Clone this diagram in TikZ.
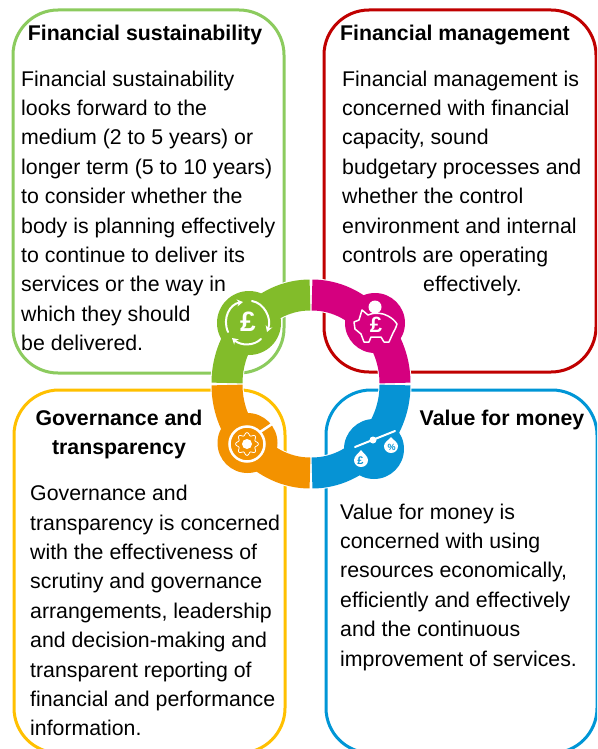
\documentclass[tikz,border=0pt]{standalone}
\usepackage{fontspec}
\usetikzlibrary{arrows.meta}
\setmainfont{Liberation Sans}
\definecolor{bgreen}{HTML}{8CCB5E}
\definecolor{bred}{HTML}{C00000}
\definecolor{byellow}{HTML}{FFC000}
\definecolor{bblue}{HTML}{0096D6}
\definecolor{rgreen}{HTML}{82BC2A}
\definecolor{rpink}{HTML}{D5007F}
\definecolor{rblue}{HTML}{0693D4}
\definecolor{rorange}{HTML}{F39200}
\tikzset{
  x=1pt,y=-1pt,
  panel/.style={line width=3pt,rounded corners=45pt},
  body/.style={anchor=north west,inner sep=0pt,align=left,font=\fontsize{21.3}{29.4}\selectfont,text=black},
  head/.style={inner sep=0pt,align=center,font=\fontsize{21.3}{29.3}\selectfont\bfseries,text=black},
  halo/.style={draw=white,line width=32pt},
  band/.style={line width=31pt},
  ico/.style={draw=white,line width=2pt,line cap=round},
  pound/.style={text=white,inner sep=0pt,font=\bfseries}
}
\begin{document}
\begin{tikzpicture}
\useasboundingbox (0,0) rectangle (597,749);
\fill[white] (0,0) rectangle (597,749);
\begin{scope}
\clip (0,0) rectangle (597,749);
\draw[panel,draw=bgreen] (13,10) rectangle (284,373);
\draw[panel,draw=bred] (324,10) rectangle (596,372);
\draw[panel,draw=byellow] (14,390) rectangle (285,753);
\draw[panel,draw=bblue] (326,390) rectangle (597,753);
\end{scope}
% text
\node[head,anchor=base] (t1) at (145,40.5) {Financial sustainability};
\node[head,anchor=base] (t2) at (455,40.5) {Financial management};
\node[head,anchor=base] (t3) at (119,454.5) {Governance and\\transparency};
\node[head,anchor=base] (t4) at (502,425) {Value for money};
\node[body] (b1) at (21,70.5) {Financial sustainability\\looks forward to the\\medium (2 to 5 years) or\\longer term (5 to 10 years)\\to consider whether the\\body is planning effectively\\to continue to deliver its\\services or the way in\\which they should\\be delivered.};
\node[body] (b2) at (342,70.5) {Financial management is\\concerned with financial\\capacity, sound\\budgetary processes and\\whether the control\\environment and internal\\controls are operating\\\hspace*{81pt}effectively.};
\node[body] (b3) at (30,485) {Governance and\\transparency is concerned\\with the effectiveness of\\scrutiny and governance\\arrangements, leadership\\and decision-making and\\transparent reporting of\\financial and performance\\information.};
\node[body] (b4) at (340,503.5) {Value for money is\\concerned with using\\resources economically,\\efficiently and effectively\\and the continuous\\improvement of services.};
% ring halos
\foreach \c/\r in {(249,323)/33,(375,323)/31,(374,449)/31,(247.5,443)/31} \fill[white] \c circle (\r);
\draw[halo,line width=33pt] (227,383) .. controls (227,335) and (265,295) .. (310,295);
\draw[halo,line width=33pt] (395,383) .. controls (395,335) and (357,295) .. (312,295);
\draw[halo,line width=33pt] (395,385) .. controls (395,433) and (357,473) .. (312,473);
\draw[halo,line width=33pt] (227,385) .. controls (227,433) and (265,473) .. (310,473);
% ring bands
\draw[band,rgreen] (227,383) .. controls (227,335) and (265,295) .. (310,295);
\fill[rgreen] (249,323) circle (32);
\draw[band,rpink] (395,383) .. controls (395,335) and (357,295) .. (312,295);
\fill[rpink] (375,323) circle (30);
\draw[band,rblue] (395,385) .. controls (395,433) and (357,473) .. (312,473);
\fill[rblue] (374,449) circle (30);
\draw[band,rorange] (227,385) .. controls (227,433) and (265,473) .. (310,473);
\fill[rorange] (247.5,443) circle (30);
% green icon
\node[pound,font=\fontsize{28}{28}\selectfont\bfseries] (p1) at (248,322) {£};
\draw[ico,-{Stealth[length=6pt,width=7pt]}] (228,332) .. controls (222,318) and (230,304) .. (243,302);
\draw[ico,-{Stealth[length=6pt,width=7pt]}] (252,301) .. controls (264,303) and (272,318) .. (267,332);
\draw[ico,-{Stealth[length=6pt,width=7pt]}] (261,339) .. controls (254,346) and (241,346) .. (232,338);
% piggy icon
\draw[white,line width=1.5pt,line join=round,fill=rpink] (362,310) -- (368,315) .. controls (375,312) and (383,313) .. (388,316) .. controls (392,318) and (395,321) .. (397,324) .. controls (396,328) and (394,331) .. (393,333) -- (389,342) -- (384,342) -- (381,337) -- (371,337) -- (369,342) -- (364,342) -- (361,334) -- (355,329) -- (354,322) -- (359,320) -- cycle;
\fill[white] (375,307) circle (6.5);
\node[pound,font=\fontsize{22}{22}\selectfont\bfseries] (p2) at (376,325) {£};
% gear icon
\draw[white,line width=2.5pt] (247,444) circle (17.5);
\draw[white,line width=2.5pt] (260,432) -- (272,424);
\draw[white,line width=.8pt,smooth] plot[domain=0:360,samples=97] ({247+(10+1.4*cos(8*\x))*cos(\x)},{444+(10+1.4*cos(8*\x))*sin(\x)});
\fill[white] (247,444) circle (5);
% scale icon
\draw[white,line width=2pt,line cap=round] (355,447) -- (395,431);
\fill[white] (373,440) circle (3.5);
\fill[white] (361,450) .. controls (363,453) and (368,456) .. (368,460) .. controls (368,464) and (365,467) .. (361,467) .. controls (357,467) and (354,464) .. (354,460) .. controls (354,456) and (359,453) .. (361,450) -- cycle;
\fill[white] (391,437) .. controls (393,440) and (398,442) .. (398,446) .. controls (398,450) and (395,453) .. (391,453) .. controls (387,453) and (384,450) .. (384,446) .. controls (384,442) and (389,440) .. (391,437) -- cycle;
\node[text=rblue,inner sep=0pt,font=\fontsize{11}{11}\selectfont\bfseries] (p3) at (360.5,460.5) {£};
\node[text=rblue,inner sep=0pt,font=\fontsize{9}{9}\selectfont\bfseries] (p4) at (391.5,447) {\%};
\end{tikzpicture}
\end{document}
